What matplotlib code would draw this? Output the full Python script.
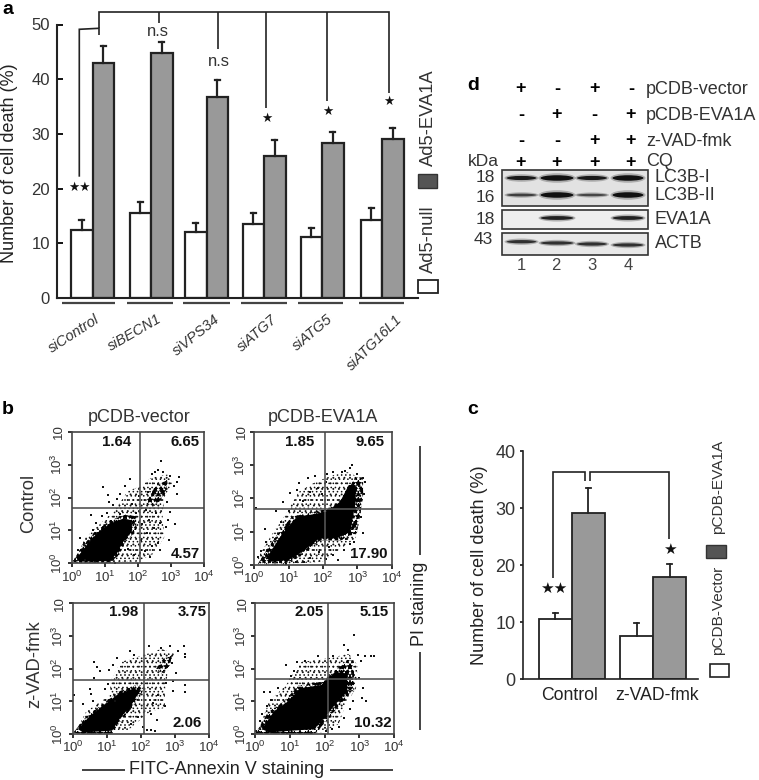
"""Four panel figure: cell death bars, annexin V / PI dot plots and an immunoblot."""

import matplotlib

matplotlib.use("Agg")
import matplotlib.pyplot as plt
import numpy as np
from matplotlib.patches import Ellipse, Polygon, Rectangle

plt.rcParams["font.family"] = ["Liberation Sans", "DejaVu Sans"]
plt.rcParams["hatch.linewidth"] = 0.6
plt.rcParams["mathtext.fontset"] = "custom"
plt.rcParams["mathtext.rm"] = "Liberation Sans"

W, H = 759, 780
INK = "#222222"
GREY_BAR = "#999999"
GREY_KEY = "#555555"

# panel a
a_groups = ["siControl", "siBECN1", "siVPS34", "siATG7", "siATG5", "siATG16L1"]
a_null = [12.5, 15.5, 12.0, 13.5, 11.1, 14.3]
a_eva = [43.0, 44.7, 36.8, 26.0, 28.3, 29.0]
a_null_top = [14.2, 17.6, 13.7, 15.6, 12.8, 16.5]
a_eva_top = [46.0, 46.8, 39.8, 28.8, 30.4, 31.0]
a_centers = [92.5, 151, 206.5, 264, 322, 382]
a_label_rot = [33, 30, 39, 41, 40, 45]
a_label_end = [(95, 312), (157, 312), (214, 312), (271, 312), (326, 312), (395, 312)]
a_under = [(62, 115), (127, 173), (183, 230), (241, 287), (298, 343), (359, 404)]

# panel c
c_groups = ["Control", "z-VAD-fmk"]
c_vector = [10.5, 7.6]
c_eva = [29.2, 18.0]
c_vector_top = [11.7, 9.8]
c_eva_top = [33.5, 20.2]
c_centers = [571.7, 653]

# panel b: log10 intensity, (annexin, PI)
b_titles = ["pCDB-vector", "pCDB-EVA1A"]
b_rows = ["Control", "z-VAD-fmk"]
b_boxes = [(71.7, 431.7, 204, 563.3), (254.3, 431.7, 391.7, 565),
           (72.7, 603.3, 209.3, 734), (255, 603.3, 394.3, 734)]
b_gates = [(2.05, 1.69), (2.06, 1.67), (2.09, 1.65), (2.10, 1.69)]
b_percent = [
    [("1.64", 116.7, 442), ("6.65", 185, 442), ("4.57", 185, 554)],
    [("1.85", 300, 442), ("9.65", 370, 442), ("17.90", 369, 554)],
    [("1.98", 124, 612), ("3.75", 192, 612), ("2.06", 187, 723)],
    [("2.05", 309, 612), ("5.15", 374, 612), ("10.32", 373, 723)],
]
b_core = [
    [(0.15, 0.15), (0.45, 0.55), (0.76, 0.91), (1.16, 1.21), (1.56, 1.36), (1.82, 1.31),
     (1.82, 0.96), (1.56, 0.66), (1.36, 0.30), (1.16, 0.07), (0.25, 0.05)],
    [(0.35, 0.2), (0.6, 0.6), (0.9, 1.05), (1.2, 1.4), (1.6, 1.5), (2.1, 1.6), (2.5, 1.9),
     (2.75, 2.4), (2.95, 2.4), (2.95, 1.9), (2.8, 1.0), (2.4, 0.8), (1.9, 0.8), (1.4, 0.4),
     (1.0, 0.15), (0.5, 0.1)],
    [(0.15, 0.15), (0.5, 0.55), (1.0, 0.95), (1.3, 1.2), (1.8, 1.4), (1.95, 1.3), (1.7, 0.85),
     (1.4, 0.5), (1.15, 0.1), (0.3, 0.05)],
    [(0.2, 0.15), (0.55, 0.7), (0.95, 1.0), (1.3, 1.4), (1.9, 1.5), (2.3, 1.9), (2.65, 1.85),
     (2.65, 1.3), (2.3, 0.9), (2.0, 0.5), (1.7, 0.15), (0.4, 0.05)],
]
b_halo = [
    [(0.1, 0.1), (0.4, 0.75), (0.8, 1.15), (1.3, 1.6), (1.7, 2.2), (2.1, 2.35), (2.4, 2.6),
     (2.9, 2.7), (3.05, 2.45), (2.8, 2.0), (2.75, 1.4), (2.8, 0.8), (2.5, 0.3), (2.0, 0.05),
     (0.3, 0.03)],
    [(0.1, 0.2), (0.5, 0.9), (0.9, 1.5), (1.3, 2.2), (1.8, 2.5), (2.3, 2.7), (2.8, 2.8),
     (3.1, 2.5), (3.1, 1.6), (2.95, 0.8), (2.4, 0.4), (2.0, 0.1), (1.0, 0.03), (0.3, 0.03)],
    [(0.1, 0.1), (0.4, 0.7), (1.1, 1.2), (1.1, 1.6), (1.4, 2.2), (2.0, 2.4), (2.6, 2.6),
     (3.0, 2.45), (2.8, 2.0), (2.7, 1.3), (2.7, 0.8), (2.3, 0.7), (2.05, 0.5), (1.6, 0.1),
     (0.2, 0.03)],
    [(0.1, 0.1), (0.4, 1.0), (0.9, 1.5), (1.0, 1.7), (1.3, 2.2), (2.0, 2.3), (2.7, 2.45),
     (2.95, 2.1), (2.9, 1.4), (2.6, 0.9), (2.4, 0.3), (1.9, 0.05), (0.2, 0.03)],
]
b_spot = [
    [(2.2, 1.8), (2.5, 2.3), (2.9, 2.55), (2.85, 2.15), (2.55, 1.75)],
    [],
    [(2.45, 2.0), (2.65, 2.3), (2.9, 2.4), (2.85, 2.1), (2.6, 1.85)],
    [(2.3, 1.9), (2.7, 2.3), (2.85, 2.2), (2.7, 1.85)],
]
b_dots = [
    [(2.71, 3.11), (0.96, 2.33), (1.11, 2.09), (1.14, 1.85), (0.58, 1.48), (0.25, 0.78),
     (3.23, 2.63), (3.18, 2.47), (3.08, 2.34), (3.18, 2.10), (2.98, 1.57), (3.13, 1.19),
     (2.93, 0.71), (2.68, 0.40), (2.37, 0.20), (2.52, 2.78), (2.61, 2.83), (2.44, 2.70),
     (2.75, 2.76), (2.98, 2.64), (1.77, 2.55), (1.62, 2.36), (1.47, 2.12), (1.38, 1.94),
     (1.25, 1.76), (1.06, 1.52), (0.91, 1.44), (0.72, 1.23), (0.64, 1.02), (0.36, 0.62),
     (0.18, 0.41), (2.87, 1.86), (2.92, 1.33), (2.85, 1.10), (2.61, 0.62), (2.42, 0.52),
     (2.22, 0.36), (2.10, 0.70), (2.28, 0.92), (2.48, 1.08), (2.66, 1.22), (2.33, 1.32),
     (2.12, 1.18), (1.95, 1.52), (2.25, 1.62), (2.55, 1.53), (1.83, 1.81), (2.02, 2.05),
     (2.31, 2.18), (2.62, 2.41), (2.84, 2.48), (1.69, 0.42), (1.87, 0.25), (2.05, 0.31),
     (1.45, 1.50), (0.40, 0.10), (0.70, 0.04), (1.30, 0.02)],
    [(2.85, 3.00), (2.78, 2.91), (2.65, 2.82), (2.55, 2.78), (2.30, 2.80), (2.12, 2.72),
     (3.15, 2.62), (3.22, 2.48), (3.05, 2.36), (3.20, 2.12), (3.10, 1.45), (3.16, 0.95),
     (0.85, 1.90), (1.05, 2.15), (1.24, 2.26), (1.30, 2.47), (1.55, 2.60), (1.78, 2.66),
     (0.30, 1.08), (0.05, 1.72), (0.62, 1.62), (0.78, 1.30), (0.35, 0.70), (0.20, 0.42),
     (0.12, 0.25), (2.62, 0.45), (2.80, 0.62), (2.45, 0.15), (2.28, 0.30), (2.08, 0.18),
     (1.88, 0.40), (1.62, 0.22), (1.46, 0.10), (2.18, 0.55), (0.92, 0.02), (1.20, 0.08),
     (2.90, 0.70), (2.68, 0.78), (1.42, 1.92), (1.62, 2.18), (1.85, 2.30), (1.98, 2.12),
     (2.10, 2.50), (1.00, 1.62), (3.00, 2.72)],
    [(0.62, 2.20), (0.72, 2.04), (0.80, 1.92), (0.05, 1.18), (0.30, 0.92), (0.52, 1.38),
     (0.55, 1.22), (0.62, 1.72), (0.58, 1.02), (0.95, 1.38), (1.02, 1.52), (1.25, 1.02),
     (3.25, 2.70), (3.28, 2.45), (3.28, 2.36), (3.08, 2.55), (3.28, 1.50), (3.28, 1.28),
     (3.02, 1.88), (2.95, 1.62), (2.93, 1.32), (2.70, 0.85), (2.48, 0.42), (2.28, 0.62),
     (2.18, 0.12), (2.30, 0.12), (2.42, 0.10), (2.05, 0.20), (2.24, 2.70), (2.60, 2.62),
     (2.85, 2.68), (1.80, 2.42), (1.68, 2.55), (1.30, 2.32), (1.18, 2.10), (1.05, 1.95),
     (2.92, 2.18), (2.72, 1.55), (2.50, 1.20), (2.35, 0.95), (1.70, 0.32), (1.92, 0.52)],
    [(2.85, 3.02), (2.55, 2.72), (2.68, 2.58), (2.95, 2.42), (3.15, 2.40), (3.32, 2.38),
     (3.42, 2.38), (3.05, 2.22), (3.00, 1.72), (3.10, 1.42), (3.18, 1.00), (3.08, 1.10),
     (0.88, 2.12), (1.22, 2.20), (1.45, 2.22), (1.02, 1.78), (0.42, 1.28), (0.25, 1.30),
     (0.66, 1.42), (0.45, 1.05), (0.20, 0.62), (0.35, 0.85), (0.15, 0.40), (2.72, 0.78),
     (2.55, 0.48), (2.42, 0.20), (2.22, 0.15), (2.05, 0.10), (2.80, 1.02), (1.12, 1.92),
     (1.80, 2.38), (2.25, 2.40), (1.60, 0.04), (0.92, 0.02), (0.04, 0.08), (0.12, 0.05)],
]

# panel d
d_rows = ["pCDB-vector", "pCDB-EVA1A", "z-VAD-fmk", "CQ"]
d_signs = [["+", "-", "+", "-"], ["-", "+", "-", "+"], ["-", "-", "+", "+"], ["+", "+", "+", "+"]]
d_lc3_i = [0.75, 1.0, 0.75, 1.0]
d_lc3_ii = [0.5, 1.0, 0.45, 1.0]
d_eva = [0.0, 0.7, 0.0, 0.7]
d_actb = [0.6, 0.6, 0.6, 0.6]
d_lanes = ["1", "2", "3", "4"]

fig = plt.figure(figsize=(W / 100, H / 100), dpi=100)


def px_axes(left, top, right, bottom):
    return fig.add_axes([left / W, 1 - bottom / H, (right - left) / W, (bottom - top) / H])


def bars(ax, centers, low, high, low_top, high_top, width, lw):
    centers = np.array(centers)
    ax.bar(centers - width / 2, low, width, color="white", edgecolor=INK, linewidth=lw)
    ax.bar(centers + width / 2, high, width, color=GREY_BAR, edgecolor=INK, linewidth=lw)
    for xs, vals, tops in [(centers - width / 2, low, low_top), (centers + width / 2, high, high_top)]:
        for x, v, t in zip(xs, vals, tops):
            ax.plot([x, x], [v, t], color=INK, lw=lw, zorder=1)
            ax.plot([x - 2.5, x + 2.5], [t, t], color=INK, lw=lw, zorder=1)


def speckle(ax, points, patterns, color="#111111"):
    # two hatch pitches on top of each other beat into an uneven dot field
    for pattern in patterns:
        ax.add_patch(Polygon(10 ** points, closed=True, facecolor="none", edgecolor=color, hatch=pattern, lw=0))


# bars a
ax_a = px_axes(57, 24.5, 418, 298)
bars(ax_a, a_centers, a_null, a_eva, a_null_top, a_eva_top, 21.5, 1.6)
ax_a.set_xlim(57, 418)
ax_a.set_ylim(0, 50)
ax_a.set_xticks([])
ax_a.set_yticks([0, 10, 20, 30, 40, 50])
ax_a.tick_params(axis="y", direction="in", length=4, width=1.3, labelsize=12, labelcolor="#333333", pad=5)
ax_a.spines[["top", "right"]].set_visible(False)
ax_a.spines[["left", "bottom"]].set_linewidth(1.5)
ax_a.spines[["left", "bottom"]].set_color(INK)

# bars c
ax_c = px_axes(523.3, 451, 698, 679.3)
bars(ax_c, c_centers, c_vector, c_eva, c_vector_top, c_eva_top, 33, 1.3)
ax_c.set_xlim(523.3, 698)
ax_c.set_ylim(0, 40)
ax_c.set_xticks([])
ax_c.set_yticks([0, 10, 20, 30, 40])
ax_c.tick_params(axis="y", direction="out", length=2.5, width=1.1, labelsize=13, labelcolor="#333333", pad=3)
ax_c.spines[["top", "right"]].set_visible(False)
ax_c.spines[["left", "bottom"]].set_linewidth(1.2)
ax_c.spines[["left", "bottom"]].set_color(INK)

# dot plots b
for i, box in enumerate(b_boxes):
    ax = px_axes(box[0], box[1], box[2], box[3])
    ax.set_xscale("log")
    ax.set_yscale("log")
    ax.set_xlim(1, 1e4)
    ax.set_ylim(1, 1e4)
    speckle(ax, np.array(b_halo[i]), ["...", "...."])
    if b_spot[i]:
        speckle(ax, np.array(b_spot[i]), ["**", "***"], color="black")
    core = np.array(b_core[i])
    middle = core.mean(axis=0) + (core - core.mean(axis=0)) * 1.18
    speckle(ax, np.clip(middle, 0.02, 3.98), ["**", "***", "...."], color="black")
    ax.add_patch(Polygon(10 ** core, closed=True, facecolor="black", edgecolor="none"))
    dots = 10 ** np.array(b_dots[i])
    ax.plot(dots[:, 0], dots[:, 1], "s", ms=1.6, color="#111111", mew=0)
    ax.axvline(10 ** b_gates[i][0], color="#555555", lw=1.2)
    ax.axhline(10 ** b_gates[i][1], color="#555555", lw=1.2)
    decades = [1, 10, 100, 1000, 10000]
    ax.set_xticks(decades)
    ax.set_yticks(decades)
    ax.set_xticklabels([rf"$\mathregular{{10^{{{d}}}}}$" for d in range(5)], fontsize=9.5, color="#333333")
    ax.set_yticklabels([rf"$\mathregular{{10^{{{d}}}}}$" for d in range(4)] + ["10"], fontsize=9.5,
                       color="#333333", rotation=90, va="center")
    ax.tick_params(which="major", length=3, width=1.3, pad=1.5, color=INK)
    ax.tick_params(which="minor", length=2, width=0.9, color=INK)
    for sp in ax.spines.values():
        sp.set_linewidth(1.2)
        sp.set_color("#444444")

# overlay in picture pixels for all free text, brackets and the blot
ov = fig.add_axes([0, 0, 1, 1], facecolor="none")
ov.set_xlim(0, W)
ov.set_ylim(H, 0)
ov.axis("off")


def txt(x, y, s, size=13, color=INK, **kw):
    kw.setdefault("ha", "center")
    kw.setdefault("va", "center")
    ov.text(x, y, s, fontsize=size, color=color, **kw)


def line(xs, ys, lw=1.3, color=INK):
    ov.plot(xs, ys, color=color, lw=lw, solid_capstyle="butt", solid_joinstyle="miter")


# panel letters
for s, x, y in [("a", 8, 14.5), ("b", 8, 414), ("c", 473, 414), ("d", 473, 90.5)]:
    txt(x, y, s, size=14, color="black", fontweight="bold", va="baseline")

# a: labels, key and brackets
txt(10, 163, "Number of cell death (%)", size=13, rotation=90)
for name, end, rot in zip(a_groups, a_label_end, a_label_rot):
    txt(end[0], end[1], name, size=10.5, color="#333333", rotation=rot, ha="right", va="top",
        rotation_mode="anchor", style="italic")
for x0, x1 in a_under:
    line([x0, x1], [302.7, 302.7], lw=1.6, color="#444444")
ov.add_patch(Rectangle((418, 280), 20, 13, facecolor="white", edgecolor=INK, lw=1.3))
ov.add_patch(Rectangle((418, 174), 19, 14, facecolor=GREY_KEY, edgecolor="#333333", lw=1))
txt(428, 239, "Ad5-null", size=13.2, rotation=90, color="#333333")
txt(428, 118, "Ad5-EVA1A", size=13.2, rotation=90, color="#333333")
line([79.3, 79.3, 99, 99], [176.7, 29.3, 28.3, 35], lw=1.2)
line([99, 99, 389.3, 389.3], [28.3, 11.7, 11.7, 93], lw=1.2)
for x, y in [(159, 23), (218, 49), (266, 108), (327, 101)]:
    line([x, x], [11.7, y], lw=1.2)
txt(158, 32, "n.s", size=12, color="#333333")
txt(219, 61, "n.s", size=12, color="#333333")
for s, x, y in [("★★", 79, 188), ("★", 267, 119), ("★", 328, 112), ("★", 389, 102)]:
    txt(x, y, s, size=9, color="#111111")

# b: labels
txt(139.5, 417, b_titles[0], size=13, color="#333333")
txt(323, 417, b_titles[1], size=13, color="#333333")
txt(29, 503, b_rows[0], size=13.2, rotation=90, color="#333333")
txt(35, 664, b_rows[1], size=13.2, rotation=90, color="#333333")
txt(227, 770, "FITC-Annexin V staining", size=13)
line([82, 125], [770, 770], lw=1.2)
line([330, 393], [770, 770], lw=1.2)
txt(420, 604, "PI staining", size=13, rotation=90)
line([420, 420], [446, 555], lw=1.2)
line([420, 420], [652, 730], lw=1.2)
for rows in b_percent:
    for s, x, y in rows:
        txt(x, y, s, size=10.8, color="#111111", fontweight="bold")

# c: labels, key and brackets
txt(479, 565, "Number of cell death (%)", size=13, rotation=90)
txt(570, 695, c_groups[0], size=12.7)
txt(657, 695, c_groups[1], size=12.7)
ov.add_patch(Rectangle((710, 664), 19, 13, facecolor="white", edgecolor=INK, lw=1.2))
ov.add_patch(Rectangle((706, 545), 20, 13, facecolor=GREY_KEY, edgecolor="#333333", lw=1))
txt(718, 610, "pCDB-Vector", size=11.1, rotation=90, color="#333333")
txt(718, 487, "pCDB-EVA1A", size=11.1, rotation=90, color="#333333")
line([553.3, 553.3, 585, 585], [578, 471.7, 471.7, 481], lw=1.2)
line([590, 590, 669.3, 669.3], [481, 471.7, 471.7, 539.3], lw=1.2)
txt(554, 589, "★★", size=11, color="#111111")
txt(670, 550, "★", size=11, color="#111111")

# d: treatment grid
sign_x = [521, 557, 594, 631]
for row, y, signs in zip(d_rows, [89, 115, 141, 162], d_signs):
    txt(646, y, row, size=13, ha="left", color="#333333")
    for x, s in zip(sign_x, signs):
        txt(x, y, s, size=13, color="black", fontweight="bold")
txt(483, 162, "kDa", size=12.5, color="#333333")

# d: blot frames and bands
lane_x = [521.5, 557, 592, 628]
half_w = [16, 17.5, 16, 16.5]
for top, bottom, shade in [(170, 205.7, "#e2e2e2"), (210, 229.3, "#eeeeee"), (233.3, 255.3, "#e8e8e8")]:
    ov.add_patch(Rectangle((502.3, top), 146, bottom - top, facecolor=shade, edgecolor="#333333", lw=1.2))
for y_list, strength in [([178] * 4, d_lc3_i), ([195] * 4, d_lc3_ii), ([218] * 4, d_eva),
                         ([241.7, 243, 244, 245], d_actb)]:
    for x, hw, y, s in zip(lane_x, half_w, y_list, strength):
        if s <= 0:
            continue
        ov.add_patch(Ellipse((x, y), 2 * hw + 2, 8 * s + 1.5, facecolor="#777777", edgecolor="none", alpha=0.5))
        ov.add_patch(Ellipse((x, y), 2 * hw - 2, 5.5 * s, facecolor="#111111", edgecolor="none", alpha=min(1, s + 0.2)))

for s, x, y in [("18", 485, 178), ("16", 485, 197), ("18", 485, 219), ("43", 483, 240)]:
    txt(x, y, s, size=12.5, color="#333333")
for s, y in [("LC3B-I", 178), ("LC3B-II", 196), ("EVA1A", 219), ("ACTB", 243)]:
    txt(655, y, s, size=13, ha="left", color="#333333")
for s, x in zip(d_lanes, [521, 556, 592, 628]):
    txt(x, 265, s, size=12, color="#444444")

fig.savefig("out.png", dpi=100)
